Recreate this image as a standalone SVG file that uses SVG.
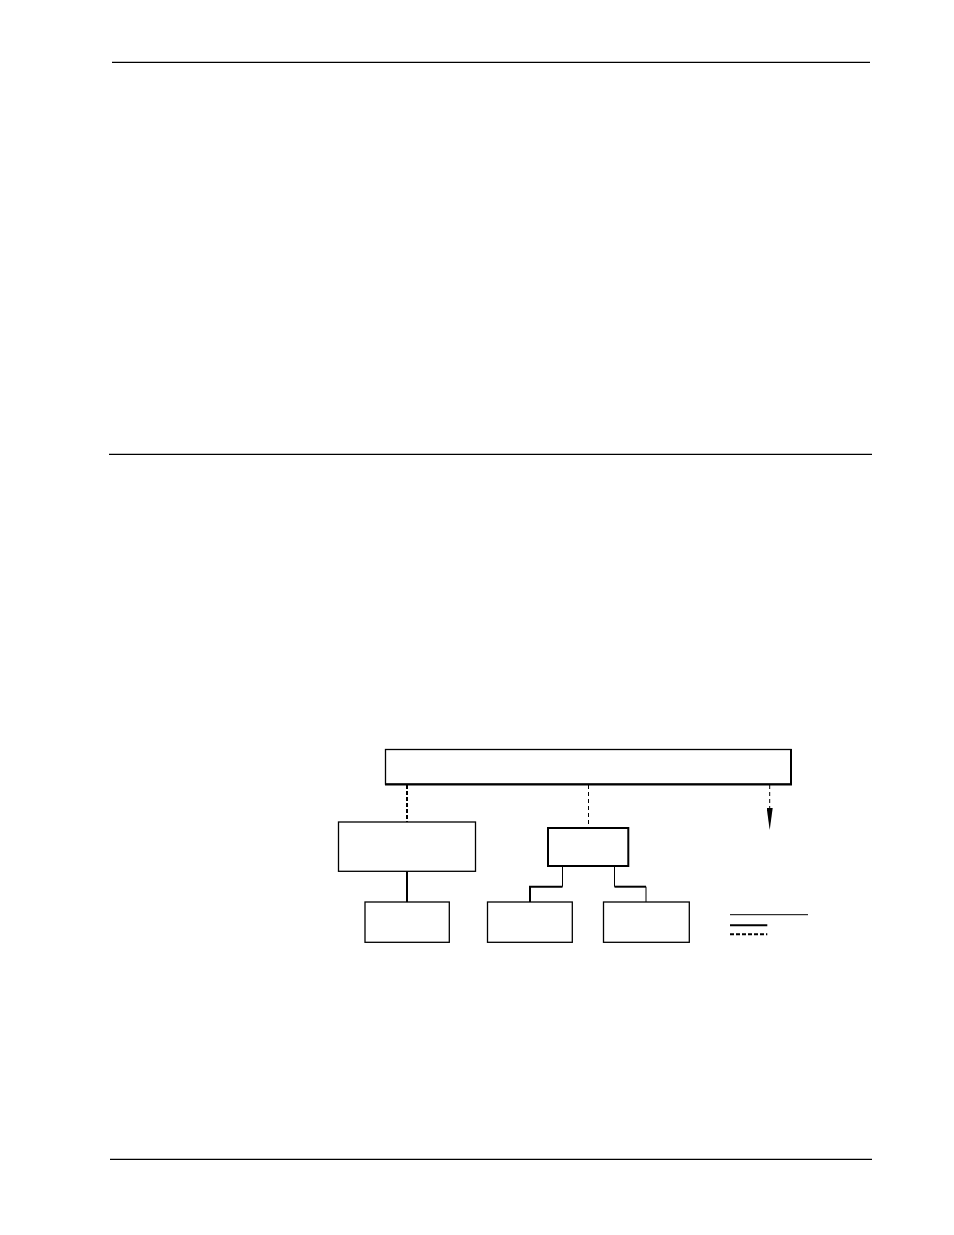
<svg xmlns="http://www.w3.org/2000/svg" width="954" height="1235" viewBox="0 0 954 1235">
<style>
.rule{stroke:#000;stroke-width:1.3;fill:none}
.box{fill:#fff;stroke:#000;stroke-width:1.3}
.boxb{fill:#fff;stroke:#000;stroke-width:2}
.thin{stroke:#000;stroke-width:1;fill:none}
.thick{stroke:#000;stroke-width:2;fill:none}
.dthin{stroke:#000;stroke-width:1;stroke-dasharray:4 3;fill:none}
.dthick{stroke:#000;stroke-width:2;stroke-dasharray:4 2;fill:none}
</style>
<defs>
<marker id="arr" viewBox="0 0 22 6" refX="0" refY="3" markerWidth="22" markerHeight="6" markerUnits="userSpaceOnUse" orient="auto">
<path d="M0,0 L22,3 L0,6 Z" fill="#000"/>
</marker>
</defs>
<rect width="954" height="1235" fill="#fff"/>
<g id="page-rules">
<line class="rule" x1="112" y1="62.3" x2="870" y2="62.3"/>
<line class="rule" x1="109" y1="454.3" x2="872" y2="454.3"/>
<line class="rule" x1="110" y1="1159.3" x2="872" y2="1159.3"/>
</g>
<g id="connectors">
<line class="dthick" x1="407" y1="785" x2="407" y2="822"/>
<line class="thick" x1="407" y1="871" x2="407" y2="902"/>
<line class="dthin" x1="588.5" y1="785" x2="588.5" y2="828"/>
<polyline class="thin" points="562.5,866 562.5,886.7"/>
<polyline class="thick" points="562.5,886.7 530,886.7 530,902"/>
<polyline class="thin" points="614.5,866 614.5,886.7"/>
<polyline class="thick" points="614.5,886.7 646,886.7"/>
<polyline class="thin" points="646,886.7 646,902"/>
<line class="dthin" x1="769.7" y1="785" x2="769.7" y2="808" marker-end="url(#arr)"/>
</g>
<g id="node-top">
<rect class="box" x="385.5" y="749.5" width="405.5" height="34.5"/>
<polyline class="thick" points="791,749 791,784.5 385,784.5"/>
</g>
<g id="node-left">
<rect class="box" x="338.5" y="822" width="137" height="49.3"/>
</g>
<g id="node-mid">
<rect class="boxb" x="548" y="828" width="80.3" height="38"/>
</g>
<g id="node-bl">
<rect class="box" x="365" y="902" width="84.3" height="40.3"/>
</g>
<g id="node-bm">
<rect class="box" x="487.5" y="902" width="84.8" height="40.3"/>
</g>
<g id="node-br">
<rect class="box" x="603.5" y="902" width="85.8" height="40.3"/>
</g>
<g id="legend">
<line class="thin" x1="730" y1="914.7" x2="808" y2="914.7"/>
<line class="thick" x1="730" y1="925.3" x2="767.3" y2="925.3"/>
<line class="dthick" x1="730" y1="934.3" x2="767.3" y2="934.3"/>
</g>
</svg>
